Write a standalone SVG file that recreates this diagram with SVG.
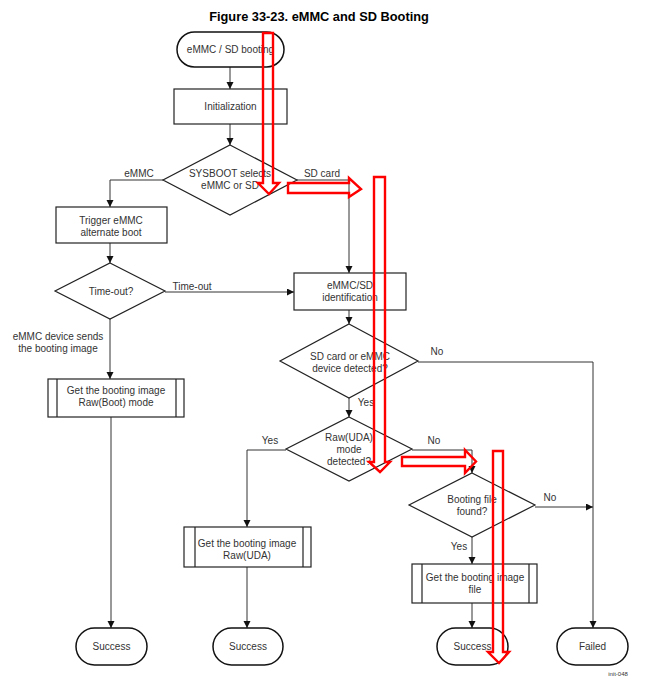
<svg xmlns="http://www.w3.org/2000/svg" width="656" height="688" viewBox="0 0 656 688">
<style>
text{font-family:"Liberation Sans",Arial,sans-serif;font-size:10px;fill:#333;text-anchor:middle}
.title{font-size:12.8px;font-weight:bold;fill:#000}
.small{font-size:6px}
.shape{fill:#fff;stroke:#222;stroke-width:1.2}
.term{fill:#fff;stroke:#111;stroke-width:1.5}
.conn{fill:none;stroke:#333;stroke-width:1}
.red{fill:none;stroke:#f00;stroke-width:2.4;stroke-linejoin:miter}
</style>
<defs>
<marker id="ah" markerUnits="userSpaceOnUse" markerWidth="8" markerHeight="8" refX="7" refY="3.5" orient="auto">
<path d="M0,0 L7,3.5 L0,7 Z" fill="#111"/>
</marker>
</defs>
<rect width="656" height="688" fill="#fff"/>
<text class="title" x="319" y="21">Figure 33-23. eMMC and SD Booting</text>

<g id="connectors">
<path class="conn" d="M230,67 V89" marker-end="url(#ah)"/>
<path class="conn" d="M230,124 V145" marker-end="url(#ah)"/>
<path class="conn" d="M163,180 H110 V207" marker-end="url(#ah)"/>
<path class="conn" d="M297,180 H349 V273" marker-end="url(#ah)"/>
<path class="conn" d="M110,243 V263" marker-end="url(#ah)"/>
<path class="conn" d="M165,292 H294" marker-end="url(#ah)"/>
<path class="conn" d="M110,319 V379" marker-end="url(#ah)"/>
<path class="conn" d="M111,417 V628" marker-end="url(#ah)"/>
<path class="conn" d="M349,310 V324" marker-end="url(#ah)"/>
<path class="conn" d="M418,362 H593 V628" marker-end="url(#ah)"/>
<path class="conn" d="M349,398 V417" marker-end="url(#ah)"/>
<path class="conn" d="M286,450 H247 V527" marker-end="url(#ah)"/>
<path class="conn" d="M412,450 H472 V473" marker-end="url(#ah)"/>
<path class="conn" d="M535,507 H593" marker-end="url(#ah)"/>
<path class="conn" d="M472,537 V564" marker-end="url(#ah)"/>
<path class="conn" d="M247,567 V628" marker-end="url(#ah)"/>
<path class="conn" d="M472,603 V628" marker-end="url(#ah)"/>
<text x="139" y="177">eMMC</text>
<text x="322" y="177">SD card</text>
<text x="192" y="290">Time-out</text>
<text x="58" y="340">eMMC device sends</text>
<text x="58" y="352">the booting image</text>
<text x="437" y="355">No</text>
<text x="366" y="406">Yes</text>
<text x="270" y="444">Yes</text>
<text x="434" y="444">No</text>
<text x="550" y="501">No</text>
<text x="459" y="550">Yes</text>
</g>

<g id="start">
<rect class="term" x="177" y="32" width="107" height="35" rx="17.5"/>
<text x="230.5" y="53">eMMC / SD booting</text>
</g>
<g id="init">
<rect class="shape" x="174" y="89" width="113" height="35"/>
<text x="230.5" y="110">Initialization</text>
</g>
<g id="sysboot">
<polygon class="shape" points="230,145 297,180 230,215 163,180"/>
<text x="230" y="177">SYSBOOT selects</text>
<text x="230" y="189">eMMC or SD</text>
</g>
<g id="trigger">
<rect class="shape" x="56" y="207" width="111" height="36"/>
<text x="111" y="224">Trigger eMMC</text>
<text x="111" y="236">alternate boot</text>
</g>
<g id="timeout">
<polygon class="shape" points="110,263 165,291 110,319 55,291"/>
<text x="111" y="295">Time-out?</text>
</g>
<g id="ident">
<rect class="shape" x="294" y="273" width="112" height="37"/>
<text x="350" y="289">eMMC/SD</text>
<text x="350" y="301">identification</text>
</g>
<g id="detected">
<polygon class="shape" points="349,324 418,361 349,398 280,361"/>
<text x="350" y="360">SD card or eMMC</text>
<text x="350" y="372">device detected?</text>
</g>
<g id="rawboot">
<rect class="shape" x="48" y="379" width="136" height="38"/>
<path class="shape" d="M57,379 V417 M176,379 V417"/>
<text x="116" y="394">Get the booting image</text>
<text x="116" y="406">Raw(Boot) mode</text>
</g>
<g id="rawmode">
<polygon class="shape" points="349,417 412,449 349,481 286,449"/>
<text x="349" y="441">Raw(UDA)</text>
<text x="349" y="453">mode</text>
<text x="349" y="465">detected?</text>
</g>
<g id="bootfile">
<polygon class="shape" points="472,473 535,505 472,537 409,505"/>
<text x="472" y="503">Booting file</text>
<text x="472" y="515">found?</text>
</g>
<g id="rawuda">
<rect class="shape" x="184" y="527" width="127" height="40"/>
<path class="shape" d="M195,527 V567 M303,527 V567"/>
<text x="247" y="547">Get the booting image</text>
<text x="247" y="559">Raw(UDA)</text>
</g>
<g id="getfile">
<rect class="shape" x="412" y="564" width="125" height="39"/>
<path class="shape" d="M422,564 V603 M529,564 V603"/>
<text x="475" y="581">Get the booting image</text>
<text x="475" y="593">file</text>
</g>
<g id="success1">
<rect class="term" x="76" y="628" width="71" height="37" rx="18.5"/>
<text x="111.5" y="650">Success</text>
</g>
<g id="success2">
<rect class="term" x="213" y="628" width="70" height="37" rx="18.5"/>
<text x="248" y="650">Success</text>
</g>
<g id="success3">
<rect class="term" x="437" y="628" width="71" height="37" rx="18.5"/>
<text x="472.5" y="650">Success</text>
</g>
<g id="failed">
<rect class="term" x="557" y="628" width="71" height="37" rx="18.5"/>
<text x="592.5" y="650">Failed</text>
</g>
<text class="small" x="618" y="676">init-048</text>

<g id="red-arrows">
<path class="red" d="M263,33 H273 V183 H279 L269,194 L258,183 H263 Z"/>
<path class="red" d="M288,183 H349 V178 L361,189 L349,197 V193 H288 Z"/>
<path class="red" d="M374,177 H385 V462 H390 L380,472 L369,462 H374 Z"/>
<path class="red" d="M402,457 H465 V450 L476,461.5 L465,473 V466 H402 Z"/>
<path class="red" d="M493,451 H503 V652 H509 L499,663 L488,652 H493 Z"/>
</g>
</svg>
